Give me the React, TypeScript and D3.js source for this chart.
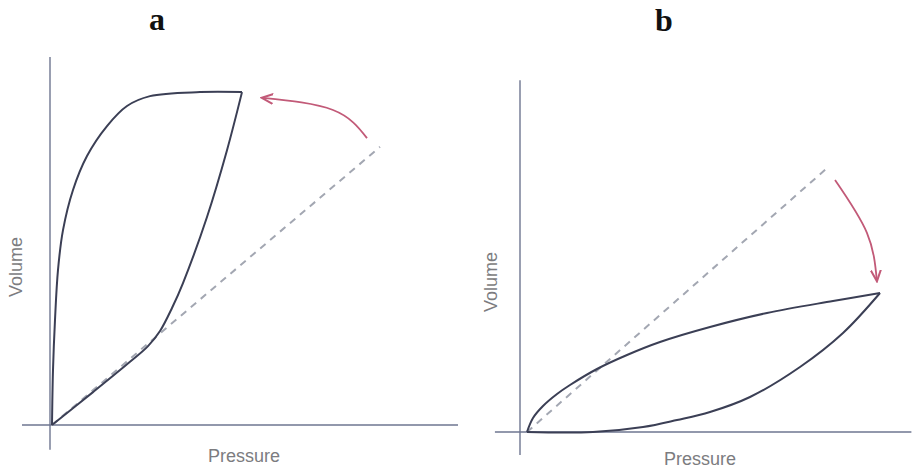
import * as d3 from "d3"
import React, { useRef, useEffect } from 'react';

// panel a - pressure/volume points (arbitrary units 0..100)
const aInflation: [number, number][] = [
    [0.5, 0], [10.75, 9.0], [20, 17.3], [24.5, 21.6], [27.5, 25.75], [30.5, 32.05],
    [33.25, 38.9], [39.25, 57], [44.25, 75.3], [48, 91.2],
];
const aDeflation: [number, number][] = [
    [48, 91.2], [37.5, 91.2], [25, 90.1], [19.25, 87.4], [14.25, 81.9], [9.25, 73.7],
    [5.75, 64.4], [3.25, 53.4], [2, 42.5], [1.25, 28.8], [0.75, 15.1], [0.5, 0],
];
const aDashed: [number, number][] = [[0.5, 0], [82.5, 76.2]];
const aArrow: [number, number][] = [[79.25, 78.6], [70.75, 86.3], [53.25, 89.6]];

// panel b
const bInflation: [number, number][] = [
    [1.84, 0], [19.21, 0], [32.37, 1.43], [41.32, 3.43], [50, 5.71], [60.53, 10],
    [73.68, 18.57], [85, 28.29], [94.74, 39.71],
];
const bDeflation: [number, number][] = [
    [94.74, 39.71], [82.37, 37.43], [65, 34], [50, 30], [36.84, 25.71], [28.16, 22],
    [20.26, 18], [13.16, 13.43], [9.74, 10.86], [6.05, 7.43], [3.42, 4], [1.84, 0],
];
const bDashed: [number, number][] = [[1.84, 0], [80.8, 75.4]];
const bArrow: [number, number][] = [[82.9, 72], [91.3, 56.9], [93.9, 43.4]];

const panelTitles = ["a", "b"];
const xLabel = "Pressure";
const yLabel = "Volume";

const width = 914;
const height = 470;

const App: React.FC = () => {
    const svgRef = useRef<SVGSVGElement | null>(null);

    useEffect(() => {
        const svg = d3.select(svgRef.current)
            .attr('width', width)
            .attr('height', height);
        svg.selectAll('*').remove();

        svg.append('rect')
            .attr('width', width)
            .attr('height', height)
            .attr('fill', '#FFFFFF');

        const defs = svg.append('defs');
        defs.append('marker')
            .attr('id', 'arrowhead')
            .attr('viewBox', '0 0 10 10')
            .attr('refX', 8)
            .attr('refY', 5)
            .attr('markerWidth', 7)
            .attr('markerHeight', 7)
            .attr('orient', 'auto')
            .append('path')
            .attr('d', 'M0,1 L9,5 L0,9')
            .attr('fill', 'none')
            .attr('stroke', '#c25a78')
            .attr('stroke-width', 1.6);

        const panels = [
            {
                title: panelTitles[0],
                x: d3.scaleLinear().domain([0, 100]).range([50, 450]),
                y: d3.scaleLinear().domain([0, 100]).range([425, 60]),
                xAxis: [-7, 102], yAxis: [-6.8, 100.8],
                inflation: aInflation, deflation: aDeflation,
                dashed: aDashed, arrow: aArrow,
                titlePos: [157, 30], volPos: [17, 267], presPos: [244, 462],
            },
            {
                title: panelTitles[1],
                x: d3.scaleLinear().domain([0, 100]).range([520, 900]),
                y: d3.scaleLinear().domain([0, 100]).range([432, 82]),
                xAxis: [-6.6, 103], yAxis: [-6.6, 100.5],
                inflation: bInflation, deflation: bDeflation,
                dashed: bDashed, arrow: bArrow,
                titlePos: [664, 31], volPos: [492, 282], presPos: [700, 465],
            },
        ];

        panels.forEach((p) => {
            const g = svg.append('g');
            const line = d3.line<[number, number]>()
                .x((d) => p.x(d[0]))
                .y((d) => p.y(d[1]));
            const natural = d3.line<[number, number]>()
                .x((d) => p.x(d[0]))
                .y((d) => p.y(d[1]))
                .curve(d3.curveNatural);
            const catmull = d3.line<[number, number]>()
                .x((d) => p.x(d[0]))
                .y((d) => p.y(d[1]))
                .curve(d3.curveCatmullRom.alpha(0.5));

            // axes
            g.append('line')
                .attr('x1', p.x(p.xAxis[0])).attr('x2', p.x(p.xAxis[1]))
                .attr('y1', p.y(0)).attr('y2', p.y(0))
                .attr('stroke', '#6e7690').attr('stroke-width', 1.4);
            g.append('line')
                .attr('x1', p.x(0)).attr('x2', p.x(0))
                .attr('y1', p.y(p.yAxis[0])).attr('y2', p.y(p.yAxis[1]))
                .attr('stroke', '#6e7690').attr('stroke-width', 1.4);

            // dashed reference line
            g.append('path')
                .attr('d', line(p.dashed))
                .attr('fill', 'none')
                .attr('stroke', '#a3a7b2')
                .attr('stroke-width', 2)
                .attr('stroke-dasharray', '7,6');

            // loop
            [p.inflation, p.deflation].forEach((limb) => {
                g.append('path')
                    .attr('d', catmull(limb))
                    .attr('fill', 'none')
                    .attr('stroke', '#3b3f55')
                    .attr('stroke-width', 2)
                    .attr('stroke-linejoin', 'round');
            });

            // red arrow
            g.append('path')
                .attr('d', natural(p.arrow))
                .attr('fill', 'none')
                .attr('stroke', '#c25a78')
                .attr('stroke-width', 1.8)
                .attr('marker-end', 'url(#arrowhead)');

            // labels
            g.append('text')
                .attr('x', p.titlePos[0]).attr('y', p.titlePos[1])
                .attr('text-anchor', 'middle')
                .attr('font-family', '"Liberation Serif", serif')
                .attr('font-weight', 'bold')
                .attr('font-size', 32)
                .attr('fill', '#111')
                .text(p.title);
            g.append('text')
                .attr('transform', `translate(${p.volPos[0]},${p.volPos[1]}) rotate(-90)`)
                .attr('text-anchor', 'middle')
                .attr('dominant-baseline', 'middle')
                .attr('font-family', '"Liberation Sans", Arial, sans-serif')
                .attr('font-size', 18)
                .attr('fill', '#7c7c80')
                .text(yLabel);
            g.append('text')
                .attr('x', p.presPos[0]).attr('y', p.presPos[1])
                .attr('text-anchor', 'middle')
                .attr('font-family', '"Liberation Sans", Arial, sans-serif')
                .attr('font-size', 18)
                .attr('fill', '#7c7c80')
                .text(xLabel);
        });
    }, []);

    return (
        <svg ref={svgRef} style={{ position: 'absolute', left: 0, top: 0 }}></svg>
    );
};

export default App;
